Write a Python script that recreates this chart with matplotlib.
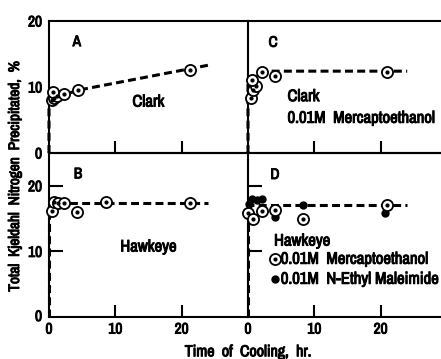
import numpy as np
import matplotlib
matplotlib.use('Agg')
from matplotlib import pyplot as plt
from matplotlib import font_manager
from matplotlib import patheffects
from matplotlib.text import Text

# the original uses a condensed bold face; use one if any is installed
narrow = sorted({f.name for f in font_manager.fontManager.ttflist
                 if 'Narrow' in f.name or 'Condensed' in f.name})
plt.rcParams['font.family'] = [narrow[0] if narrow else 'Liberation Sans', 'DejaVu Sans']
plt.rcParams['font.weight'] = 'bold'
plt.rcParams['font.size'] = 12

# ---- data (hr, % N precipitated) ----
# A: Clark
clark_t = [0.4, 0.8, 1.2, 0.6, 2.3, 4.3, 21.2]
clark_n = [8.0, 8.3, 8.6, 9.2, 8.9, 9.5, 12.6]
clark_fit_t = [0, 0, 4.3, 24]
clark_fit_n = [0, 8.0, 9.5, 13.3]

# B: Hawkeye
hawk_t = [0.4, 0.8, 1.4, 2.3, 4.2, 8.6, 21.2]
hawk_n = [16.1, 17.5, 17.4, 17.4, 16.0, 17.6, 17.4]
hawk_fit_t = [0, 0, 24]
hawk_fit_n = [0, 17.4, 17.4]

# C: Clark + 0.01M mercaptoethanol
clark_me_t = [0.4, 0.8, 1.2, 0.6, 2.1, 4.1, 20.9]
clark_me_n = [8.4, 9.5, 10.2, 11.0, 12.3, 11.6, 12.2]
clark_me_fit_t = [0, 0, 2.1, 24]
clark_me_fit_n = [0, 10.5, 12.4, 12.4]

# D: Hawkeye + mercaptoethanol (open) / N-ethyl maleimide (filled)
hawk_me_t = [0.05, 0.8, 2.1, 4.1, 8.3, 20.9]
hawk_me_n = [15.8, 15.0, 16.2, 16.3, 15.0, 17.0]
hawk_nem_t = [0.2, 0.6, 1.3, 2.1, 4.1, 8.3, 20.7]
hawk_nem_n = [17.2, 18.0, 17.8, 18.0, 15.2, 17.1, 15.8]
hawk_fit_d_t = [0, 0, 24]
hawk_fit_d_n = [0, 17.1, 17.1]

xticks = [10, 20]

fig = plt.figure(figsize=(4.41, 3.59), dpi=100)

x0, xm = 49/441, 248/441
yt, ym, yb = 1-21/359, 1-153/359, 1-317/359
axA = fig.add_axes([x0, ym, xm-x0, yt-ym])
axB = fig.add_axes([x0, yb, xm-x0, ym-yb])
axC = fig.add_axes([xm, ym, 1-xm, yt-ym])
axD = fig.add_axes([xm, yb, 1-xm, ym-yb])

dash = (0, (2.6, 1.4))

def open_pts(ax, t, n):
    ax.plot(t, n, 'o', ms=8, mfc='white', mec='black', mew=1.3, zorder=3, clip_on=False)
    ax.plot(t, n, 'o', ms=2, color='black', zorder=4, clip_on=False)

for ax in (axA, axB, axC, axD):
    ax.set_facecolor('none')
    ax.spines['right'].set_visible(False)
    for s in ax.spines.values():
        s.set_linewidth(1.5)
    ax.set_xticks(xticks)
    ax.tick_params(axis='x', direction='in', length=9, width=1.5, pad=4, labelsize=11)
    ax.tick_params(axis='y', labelsize=11)

axA.set_xlim(0, 30); axB.set_xlim(0, 30)
axC.set_xlim(0, 29.1); axD.set_xlim(0, 29.1)
axA.set_ylim(0, 20); axC.set_ylim(0, 20)
axB.set_ylim(0, 25); axD.set_ylim(0, 25)

axA.set_yticks([0, 10, 20])
axA.tick_params(axis='y', length=0, pad=5)
axA.tick_params(axis='x', labelbottom=False)
axC.tick_params(axis='x', labelbottom=False)
axC.set_yticks([])

axB.set_yticks([10, 20])
axB.tick_params(axis='y', direction='in', length=10, width=1.5, pad=5)
axB.set_xticks([0, 10, 20])
axB.set_xticklabels(['0', '10', '20'])
axB.text(-0.035, 0, '0', transform=axB.transAxes, ha='right', va='center', fontsize=11)
axD.set_yticks([10, 20])
axD.tick_params(axis='y', direction='in', length=10, width=1.5, labelleft=False)
axD.set_xticks([0, 10, 20])
axD.set_xticklabels(['0', '10', '20'])
for ax in (axB, axD):
    ax.xaxis.get_major_ticks()[0].tick1line.set_visible(False)

# fitted dashed lines
axA.plot(clark_fit_t, clark_fit_n, color='black', lw=2.2, ls=dash, clip_on=False)
axB.plot(hawk_fit_t, hawk_fit_n, color='black', lw=2.2, ls=dash, clip_on=False)
axC.plot(clark_me_fit_t, clark_me_fit_n, color='black', lw=2.2, ls=dash, clip_on=False)
axD.plot(hawk_fit_d_t, hawk_fit_d_n, color='black', lw=2.2, ls=dash, clip_on=False)

open_pts(axA, clark_t, clark_n)
open_pts(axB, hawk_t, hawk_n)
open_pts(axC, clark_me_t, clark_me_n)
axD.plot(hawk_nem_t, hawk_nem_n, 'o', ms=5, color='black', zorder=3, clip_on=False)
open_pts(axD, hawk_me_t, hawk_me_n)

# panel letters and labels
axA.text(0.14, 0.84, 'A', transform=axA.transAxes, ha='center', va='center', fontsize=11)
axB.text(0.146, 0.87, 'B', transform=axB.transAxes, ha='center', va='center', fontsize=11)
axC.text(0.13, 0.835, 'C', transform=axC.transAxes, ha='center', va='center', fontsize=11)
axD.text(0.14, 0.866, 'D', transform=axD.transAxes, ha='center', va='center', fontsize=11)

axA.text(0.5, 0.386, 'Clark', transform=axA.transAxes, ha='center', va='center')
axB.text(0.5, 0.427, 'Hawkeye', transform=axB.transAxes, ha='center', va='center')
axC.text(0.205, 0.427, 'Clark', transform=axC.transAxes, ha='left', va='center')
axC.text(0.205, 0.263, '0.01M  Mercaptoethanol', transform=axC.transAxes, ha='left', va='center')
axD.text(0.135, 0.463, 'Hawkeye', transform=axD.transAxes, ha='left', va='center')
# legend keys
axD.plot([0.142], [0.352], 'o', ms=8, mfc='white', mec='black', mew=1.3, transform=axD.transAxes)
axD.plot([0.142], [0.352], 'o', ms=2, color='black', transform=axD.transAxes)
axD.plot([0.142], [0.23], 'o', ms=5, color='black', transform=axD.transAxes)
axD.text(0.17, 0.352, '0.01M  Mercaptoethanol', transform=axD.transAxes, ha='left', va='center')
axD.text(0.17, 0.23, '0.01M  N-Ethyl Maleimide', transform=axD.transAxes, ha='left', va='center')

fig.text(0.034, 0.51, 'Total  Kjeldahl  Nitrogen  Precipitated,  %', rotation=90,
         ha='center', va='center', fontsize=11)
fig.text(248/441, 0.02, 'Time  of  Cooling,  hr.', ha='center', va='center', fontsize=11.5)

# fake the heavy weight of the printed face
for t in fig.findobj(Text):
    t.set_path_effects([patheffects.withStroke(linewidth=0.7, foreground='black')])

fig.savefig('out.png', dpi=100)
